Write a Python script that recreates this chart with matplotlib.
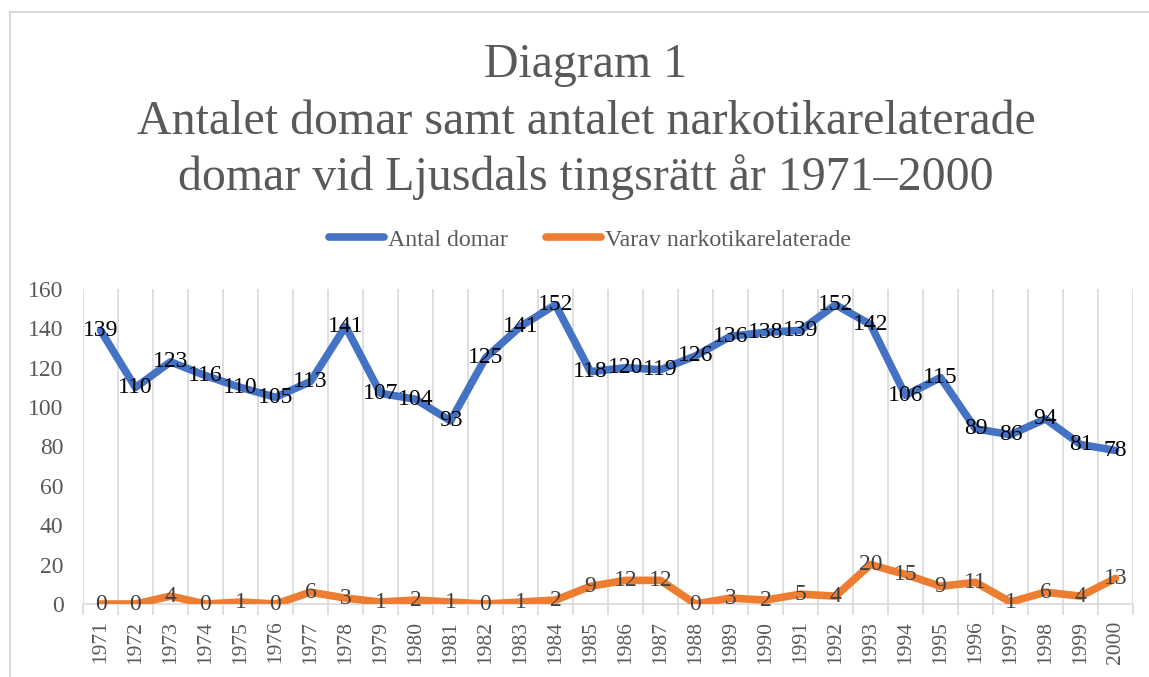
import matplotlib
matplotlib.use("Agg")
import matplotlib.pyplot as plt
from matplotlib.lines import Line2D
import numpy as np

years = [str(y) for y in range(1971, 2001)]
antal_domar = [139, 110, 123, 116, 110, 105, 113, 141, 107, 104, 93, 125, 141, 152,
               118, 120, 119, 126, 136, 138, 139, 152, 142, 106, 115, 89, 86, 94, 81, 78]
narkotika = [0, 0, 4, 0, 1, 0, 6, 3, 1, 2, 1, 0, 1, 2,
             9, 12, 12, 0, 3, 2, 5, 4, 20, 15, 9, 11, 1, 6, 4, 13]
yticks = [0, 20, 40, 60, 80, 100, 120, 140, 160]
title_lines = ["Diagram 1",
               "Antalet domar samt antalet narkotikarelaterade",
               "domar vid Ljusdals tingsrätt år 1971–2000"]
series_names = ["Antal domar", "Varav narkotikarelaterade"]

plt.rcParams['font.family'] = ['Liberation Serif', 'DejaVu Serif']
W, H = 1149, 677
fig = plt.figure(figsize=(W / 100, H / 100), dpi=100)
fig.patch.set_facecolor('white')

ax = fig.add_axes([83 / W, 1 - 604 / H, (1133 - 83) / W, (604 - 289) / H])
x = np.arange(len(years))
blue = '#4472C4'
orange = '#ED7D31'
grid_c = '#D9D9D9'
text_c = '#595959'

ax.plot(x, antal_domar, color=blue, lw=5.5, solid_capstyle='round',
        solid_joinstyle='round', zorder=3)
ax.plot(x, narkotika, color=orange, lw=5.5, solid_capstyle='round',
        solid_joinstyle='round', zorder=3)
for xi, v in zip(x, antal_domar):
    ax.text(xi, v, str(v), ha='center', va='center', fontsize=17, color='black', zorder=4)
for xi, v in zip(x, narkotika):
    ax.text(xi, v, str(v), ha='center', va='center', fontsize=17, color='#404040', zorder=4)

ax.set_xlim(-0.5, len(years) - 0.5)
ax.set_ylim(0, 160)
ax.set_yticks(yticks)
ax.set_yticklabels([str(t) for t in yticks])
ax.set_xticks(x)
ax.set_xticklabels(years, rotation=90)
ax.set_xticks(np.arange(-0.5, len(years), 1), minor=True)
ax.tick_params(axis='x', which='major', length=0, pad=12, labelsize=15.5, labelcolor=text_c)
ax.tick_params(axis='x', which='minor', length=8, width=1.2, color=grid_c)
ax.tick_params(axis='y', length=0, pad=14, labelsize=17, labelcolor=text_c)
ax.grid(axis='x', which='minor', color=grid_c, lw=1.2, zorder=0)
for s in ['top', 'right', 'left']:
    ax.spines[s].set_visible(False)
ax.spines['bottom'].set_color(grid_c)
ax.spines['bottom'].set_linewidth(1.2)

fig.text(586 / W, 1 - 65 / H, title_lines[0], ha='center', va='center', fontsize=34.5, color=text_c)
fig.text(586 / W, 1 - 122 / H, title_lines[1], ha='center', va='center', fontsize=34.5, color=text_c)
fig.text(586 / W, 1 - 177 / H, title_lines[2], ha='center', va='center', fontsize=34.5, color=text_c)

handles = [Line2D([0], [0], color=blue, lw=5.5, solid_capstyle='round'),
           Line2D([0], [0], color=orange, lw=5.5, solid_capstyle='round')]
fig.legend(handles, series_names, loc='center', bbox_to_anchor=(590 / W, 1 - 240 / H),
           ncol=2, frameon=False, fontsize=17.2, labelcolor=text_c,
           handlelength=2.3, handletextpad=0.15, columnspacing=1.6)

fig.add_artist(Line2D([10 / W, 10 / W], [0, 1 - 12 / H], color=grid_c, lw=1.5,
                      transform=fig.transFigure))
fig.add_artist(Line2D([10 / W, 1], [1 - 12 / H, 1 - 12 / H], color=grid_c, lw=1.5,
                      transform=fig.transFigure))

fig.savefig('out.png', dpi=100)
